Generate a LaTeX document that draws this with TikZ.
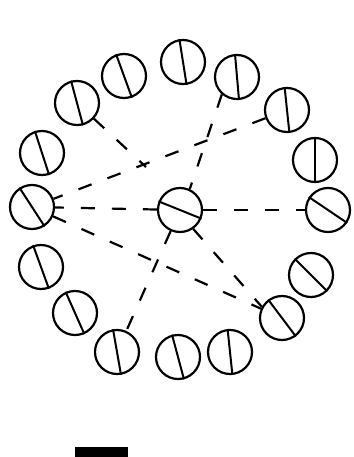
\documentclass[tikz,border=0pt]{standalone}
\begin{document}
\begin{tikzpicture}[x=1pt,y=-1pt,
  ring/.style={circle,draw,line width=2.2pt,minimum size=44pt,inner sep=0pt},
  link/.style={line width=2.2pt,dash pattern=on 14pt off 17pt},
  bar/.style={line width=2pt}]
\useasboundingbox (0,0) rectangle (353,457);
\foreach \n/\x/\y/\a in {c1/124/76/110, c2/77/103/105, c3/183/62/99, c4/237/77/95,
  c5/287/110/96, c6/315/160/90, c7/42/153/108, c8/32/207/123, c9/328/210/146,
  c10/41/267/110, c11/311/275/135, c12/75/313/114, c13/282/318/127,
  c14/117/352/100, c15/178/357/105, c16/230/352/96, ctr/180/210/158} {
  \node[ring] (\n) at (\x,\y) {};
  \draw[bar] (\n.\a) -- (\n.\a+180);
}
\coordinate (xa) at (146,167);
\draw[link] (c2) -- (xa);
\draw[link] (c5) -- (c8);
\draw[link] (c4.229) -- (ctr.65);
\draw[link] (ctr) -- (c8);
\draw[link] (ctr) -- (c9);
\draw[link] (c8) -- (c13);
\draw[link] (ctr.-55) -- (c13.151);
\draw[link] (ctr) -- (c14);
\fill[black] (75,447) rectangle (128,457);
\end{tikzpicture}
\end{document}
